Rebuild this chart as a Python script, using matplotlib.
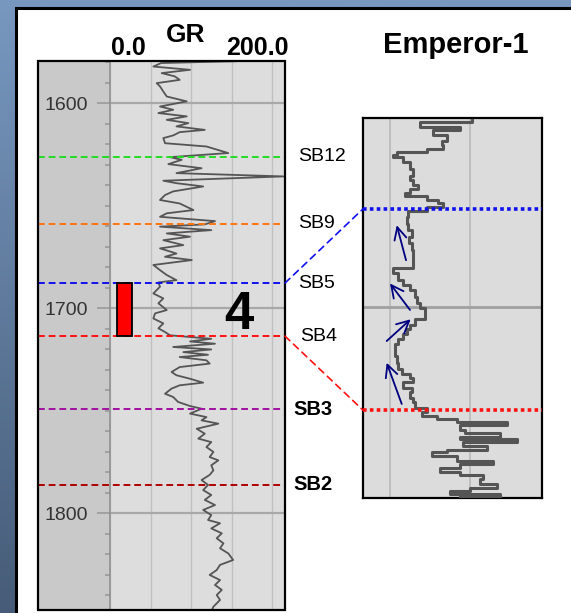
import numpy as np
import matplotlib
matplotlib.use("Agg")
import matplotlib.pyplot as plt
from matplotlib import font_manager
from matplotlib.patches import Rectangle, ConnectionPatch
from matplotlib.colors import LinearSegmentedColormap

plt.rcParams['font.family'] = ['Liberation Sans', 'DejaVu Sans']

# GR log, left track (depth m, GR API)
depth = [1579.6, 1580.5, 1582.2, 1583.8, 1585.4, 1587.0, 1588.7, 1590.3, 1591.9, 1594.4,
         1596.8, 1599.2, 1601.7, 1603.3, 1604.9, 1606.5, 1608.2, 1609.8, 1611.4, 1613.1,
         1614.2, 1615.8, 1617.1, 1619.6, 1621.2, 1624.4, 1626.4, 1627.7, 1629.8, 1631.8,
         1634.2, 1635.8, 1637.9, 1639.1, 1640.7, 1643.1,
         1644.9, 1647.3, 1649.0, 1652.2, 1653.8, 1655.5, 1657.6, 1659.2, 1660.3, 1662.0,
         1663.6, 1665.2, 1666.9, 1669.3, 1670.9, 1673.4, 1675.0, 1676.6, 1679.0, 1681.5,
         1683.9, 1686.4, 1687.5, 1689.6, 1692.9, 1695.3, 1697.7, 1701.0, 1702.6, 1705.1,
         1707.5, 1709.9,
         1711.7, 1713.3, 1715.0, 1716.3, 1717.4, 1719.0, 1720.2, 1721.5, 1722.8, 1723.9,
         1725.5, 1727.1, 1728.8, 1731.2, 1732.8, 1734.5, 1736.4, 1737.7, 1739.3, 1741.8,
         1743.4, 1745.8, 1747.8, 1749.1, 1751.5, 1753.2, 1754.8, 1756.4, 1758.9, 1761.3,
         1763.7, 1765.4, 1767.8, 1770.2, 1772.7, 1774.3, 1776.7, 1779.2,
         1781.4, 1783.9, 1786.3, 1788.8, 1791.2, 1793.6, 1796.1, 1798.5, 1801.0, 1803.4,
         1805.0, 1807.5, 1809.9, 1812.3, 1814.8, 1817.2, 1819.7, 1822.9, 1825.3, 1827.8,
         1830.2, 1832.7, 1835.1, 1837.5, 1840.0, 1842.4, 1845.7, 1848.1]
gr = [156, 63, 53.5, 98.8, 63.8, 80, 86, 57.6, 61.7, 65.8,
      70, 94.7, 61.7, 78, 59.7, 94.7, 70, 96.7, 82, 117,
      86, 78, 65.8, 67.9, 119, 146, 74, 88.5, 72, 113,
      82, 214, 65.8, 82, 115, 78,
      67.9, 61.7, 86, 103, 70, 61.7, 129.6, 117, 61.7, 125,
      70, 98.8, 65.8, 90.5, 61.7, 82, 67.9, 101, 53.5, 61.7,
      70, 82, 59.7, 61.7, 53.5, 65.8, 59.7, 70, 55.6, 53.5,
      65.8, 59.7,
      67.9, 74, 125, 98.8, 129.6, 78, 125, 90.5, 121, 86,
      119, 123, 86, 76, 82, 98.8, 115, 86, 76, 67.9,
      78, 84, 98.8, 113, 98.8, 119, 113, 133.7, 107, 117,
      109, 125, 119, 127.6, 123, 133.7, 125, 127.6,
      123, 113, 121, 115, 125, 117, 129.6, 115, 125, 121,
      135.8, 125, 138, 131.7, 140, 135.8, 146, 152, 135.8, 131.7,
      123, 135.8, 129.6, 138, 131.7, 135.8, 127.6, 125]

# zoomed GR, Emperor-1 panel
zdepth = [1676.3, 1676.6, 1677.3, 1677.7, 1678.3, 1679.0, 1679.6, 1680.1, 1680.5, 1680.8,
          1681.1, 1681.8, 1682.6, 1683.5, 1684.1, 1684.7, 1685.2, 1685.8, 1686.2, 1686.7,
          1687.1, 1687.5, 1688.1, 1688.8, 1689.7, 1690.5, 1691.4, 1692.2, 1693.1, 1693.9,
          1695.0, 1695.4, 1696.1, 1696.9, 1697.6, 1698.2, 1699.1, 1699.9, 1700.6,
          1701.2, 1702.0, 1702.7, 1703.3, 1703.9, 1704.6, 1705.2, 1705.9, 1706.7, 1707.6,
          1708.4, 1709.1, 1709.5, 1710.1, 1710.8, 1711.4, 1712.1, 1712.7, 1713.4, 1713.9,
          1714.4, 1714.8, 1715.2, 1715.6, 1716.2, 1716.6, 1717.1, 1717.4, 1717.8, 1718.3,
          1718.8, 1719.1, 1719.6, 1720.2, 1720.6, 1721.2, 1721.7, 1722.1, 1722.6, 1723.2,
          1723.7, 1724.1, 1724.5, 1724.9]
zgr = [101, 68.7, 93.7, 77.1, 85.4, 82.3, 83.3, 72.9, 54.2, 52.1,
       58.3, 62.5, 64.6, 62.5, 64.6, 67.7, 62.5, 59.4, 72.9, 80.2,
       83.3, 72.9, 61.5, 60.4, 61.5, 63.5, 62.1, 63.5, 64.6, 64.2,
       64.6, 52.1, 55.2, 58.3, 62.5, 65.6, 66.7, 68.7, 71.9,
       71.9, 65.6, 62.5, 60.4, 58.3, 55.2, 53.1, 53.1, 54.2, 55.2,
       57.3, 62.5, 64.6, 58.3, 63.5, 62.5, 64.6, 65.6, 72.9, 69.8,
       79.2, 91.7, 122.9, 93.7, 97.0, 118.7, 93.7, 129.2, 95.8, 110.4,
       85.4, 76.0, 91.7, 114.6, 93.7, 81.2, 93.7, 108.3, 106.2, 116.7,
       100.0, 87.5, 118.7, 93.7]

horizons = ['SB12', 'SB9', 'SB5', 'SB4', 'SB3', 'SB2']
hz_depth = [1626.3, 1659.0, 1687.8, 1713.7, 1749.3, 1786.3]
hz_color = ['#22dd22', '#ff7410', '#1010ee', '#ff1010', '#a010a0', '#b00000']
hz_bold = [False, False, False, False, True, True]

# interval 4 marker
interval_top, interval_base = 1687.8, 1713.7
# arrows in zoom panel: (tail gr, tail depth, head gr, head depth)
arrows = [(60.0, 1694.4, 54.2, 1689.9), (62.5, 1700.8, 50.0, 1697.4),
          (47.9, 1704.8, 62.9, 1702.0), (57.3, 1712.9, 47.9, 1707.6)]

W, H = 571, 613
fig = plt.figure(figsize=(W / 100, H / 100), dpi=100)

# narrow font for depth numbers if there is one
names = {f.name for f in font_manager.fontManager.ttflist}
depth_font, depth_size = 'Liberation Sans', 14
for cand in ['Liberation Sans Narrow', 'DejaVu Sans Condensed']:
    if cand in names:
        depth_font, depth_size = cand, 17 if 'Narrow' in cand else 15
        break

# blue frame background
bg = fig.add_axes([0, 0, 1, 1])
cmap = LinearSegmentedColormap.from_list('frame', ['#7898c0', '#465c78'])
bg.imshow(np.linspace(0, 1, 256).reshape(-1, 1), cmap=cmap, aspect='auto',
          extent=[0, 1, 0, 1])
bg.add_patch(Rectangle((15.5 / W, -0.01), 1, 1 - 7.5 / H + 0.01, facecolor='white',
                       edgecolor='black', lw=2.2))
bg.set_xlim(0, 1)
bg.set_ylim(0, 1)
bg.axis('off')

# left track
ax = fig.add_axes([38 / W, 3 / H, 247 / W, 549 / H])
xmin, xmax = -88.9, 216
ax.set_xlim(xmin, xmax)
ax.set_ylim(1847.3, 1579.5)
ax.set_facecolor('#dddddd')
ax.axvspan(xmin, 0, color='#c9c9c9', zorder=0)
for v in [50, 100, 150, 200]:
    ax.axvline(v, color='#c0c0c0', lw=1, zorder=1)
for d in [1600, 1700, 1800]:
    ax.axhline(d, xmin=(0 - xmin) / (xmax - xmin), color='#a8a8a8', lw=1.6, zorder=1)

for s in ['top', 'right', 'bottom']:
    ax.spines[s].set_visible(False)
ax.spines['left'].set_position(('data', 0))
ax.spines['left'].set_color('#909090')
ax.spines['left'].set_linewidth(1.2)
ax.set_xticks([])
ax.set_yticks([1600, 1700, 1800])
ax.set_yticks(np.arange(1580, 1850, 10), minor=True)
ax.tick_params(axis='y', which='major', length=9.5, width=1.2, color='#999999',
               pad=6.5, labelsize=depth_size, labelcolor='#333333')
ax.tick_params(axis='y', which='minor', length=3.5, width=1.2, color='#999999')
for lab in ax.get_yticklabels():
    lab.set_family(depth_font)
ax.add_patch(Rectangle((0, 0), 1, 1, transform=ax.transAxes, fill=False,
                       ec='black', lw=1.6, clip_on=False, zorder=6))

ax.plot(gr, depth, color='#555555', lw=1.3, zorder=3)

for name, d, c, b in zip(horizons, hz_depth, hz_color, hz_bold):
    ax.axhline(d, color=c, lw=1.4, ls=(0, (3.5, 2)), zorder=4)
    xoff = 1.032 if b else 1.053
    if name == 'SB4':
        xoff = 1.06
    ax.text(xoff, d, name, transform=ax.get_yaxis_transform(), ha='left',
            va='center', fontsize=14.5 if b else 14,
            fontweight='bold' if b else 'normal', color='black', clip_on=False)

ax.add_patch(Rectangle((8.4, interval_top), 18.2, interval_base - interval_top,
                       facecolor='#ff0000', edgecolor='black', lw=1.3, zorder=5))
ax.text(159, 1710.2, '4', ha='center', va='baseline', fontsize=38,
        fontweight='bold', zorder=5)

fig.text(186 / W, 1 - 42 / H, 'GR', ha='center', va='baseline', fontsize=19,
         fontweight='bold')
fig.text(128.5 / W, 1 - 55 / H, '0.0', ha='center', va='baseline', fontsize=18,
         fontweight='bold')
fig.text(257 / W, 1 - 55 / H, '200.0', ha='center', va='baseline', fontsize=18,
         fontweight='bold')
fig.text(456 / W, 1 - 53 / H, 'Emperor-1', ha='center', va='baseline', fontsize=21,
         fontweight='bold')

# zoom panel
az = fig.add_axes([363 / W, 115 / H, 179 / W, 380 / H])
az.set_xlim(33.1, 145)
az.set_ylim(1725.0, 1676.1)
az.set_facecolor('#dcdcdc')
az.set_xticks([])
az.set_yticks([])
for v in [50, 100]:
    az.axvline(v, color='#b8b8b8', lw=1.2, zorder=1)
az.axhline(1700.4, color='#a0a0a0', lw=2, zorder=1)
for s in az.spines.values():
    s.set_linewidth(1.6)
    s.set_color('black')
az.plot(zgr, zdepth, color='#555555', lw=2.2, drawstyle='steps-pre', zorder=3)
az.axhline(interval_top, color='#1010ee', lw=2.6, ls=(0, (1, 0.9)), zorder=4)
az.axhline(interval_base, color='#ff1010', lw=2.6, ls=(0, (1, 0.9)), zorder=4)
for x0, y0, x1, y1 in arrows:
    az.annotate('', xy=(x1, y1), xytext=(x0, y0),
                arrowprops=dict(arrowstyle='->', color='#000080', lw=1.3,
                                mutation_scale=22, shrinkA=0, shrinkB=0), zorder=5)

for d, c in [(interval_top, '#1010ee'), (interval_base, '#ff1010')]:
    con = ConnectionPatch(xyA=(xmax, d), coordsA=ax.transData,
                          xyB=(33.1, d), coordsB=az.transData,
                          color=c, lw=1.2, ls=(0, (4, 3)))
    fig.add_artist(con)

fig.savefig('out.png', dpi=100)
